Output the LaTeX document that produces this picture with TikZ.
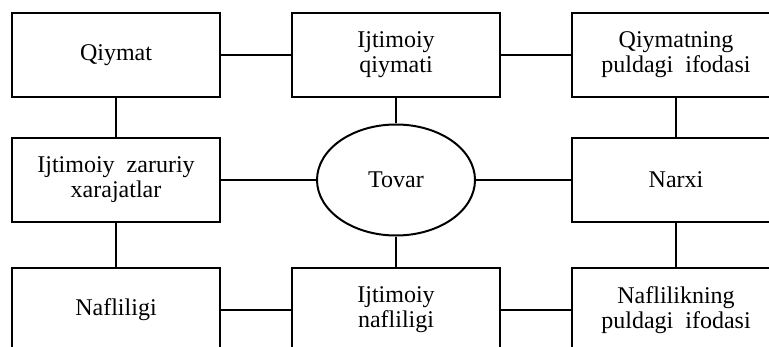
\documentclass[tikz,border=0pt]{standalone}
\usepackage{fontspec}
\setmainfont{Liberation Serif}
\usetikzlibrary{shapes.geometric}

\begin{document}
\begin{tikzpicture}[x=0.5pt,y=-0.5pt,
  blok/.style={draw=black,line width=1pt,rectangle,inner sep=0pt,minimum width=104pt,minimum height=42pt,align=center,font=\fontsize{12}{12.5}\selectfont},
  oval/.style={draw=black,line width=1pt,ellipse,inner sep=0pt,minimum width=79pt,minimum height=55.5pt,font=\fontsize{12}{12.5}\selectfont}]
                \useasboundingbox (0,0) rectangle (769,347);
                \clip (0,0) rectangle (769,347);

                \node[blok] (qiymat) at (116,55) {Qiymat};
                \node[blok] (ijqiymat) at (396,55) {Ijtimoiy\\qiymati};
                \node[blok] (qpul) at (676,55) {Qiymatning\\puldagi~~ifodasi};

                \node[blok] (xarajat) at (116,180) {Ijtimoiy~~zaruriy\\xarajatlar};
                \node[oval] (tovar) at (396,180) {Tovar};
                \node[blok] (narx) at (676,180) {Narxi};

                \node[blok] (naflilik) at (116,310) {Nafliligi};
                \node[blok] (ijnaflilik) at (396,310) {Ijtimoiy\\nafliligi};
                \node[blok] (nafpul) at (676,310) {Naflilikning\\puldagi~~ifodasi};

                \draw [line width=1pt] (qiymat) -- (ijqiymat);
                \draw [line width=1pt] (ijqiymat) -- (qpul);
                \draw [line width=1pt] (xarajat) -- (tovar);
                \draw [line width=1pt] (tovar) -- (narx);
                \draw [line width=1pt] (naflilik) -- (ijnaflilik);
                \draw [line width=1pt] (ijnaflilik) -- (nafpul);
                \draw [line width=1pt] (qiymat) -- (xarajat);
                \draw [line width=1pt] (xarajat) -- (naflilik);
                \draw [line width=1pt] (ijqiymat) -- (tovar);
                \draw [line width=1pt] (tovar) -- (ijnaflilik);
                \draw [line width=1pt] (qpul) -- (narx);
                \draw [line width=1pt] (narx) -- (nafpul);
            \end{tikzpicture}
\end{document}
